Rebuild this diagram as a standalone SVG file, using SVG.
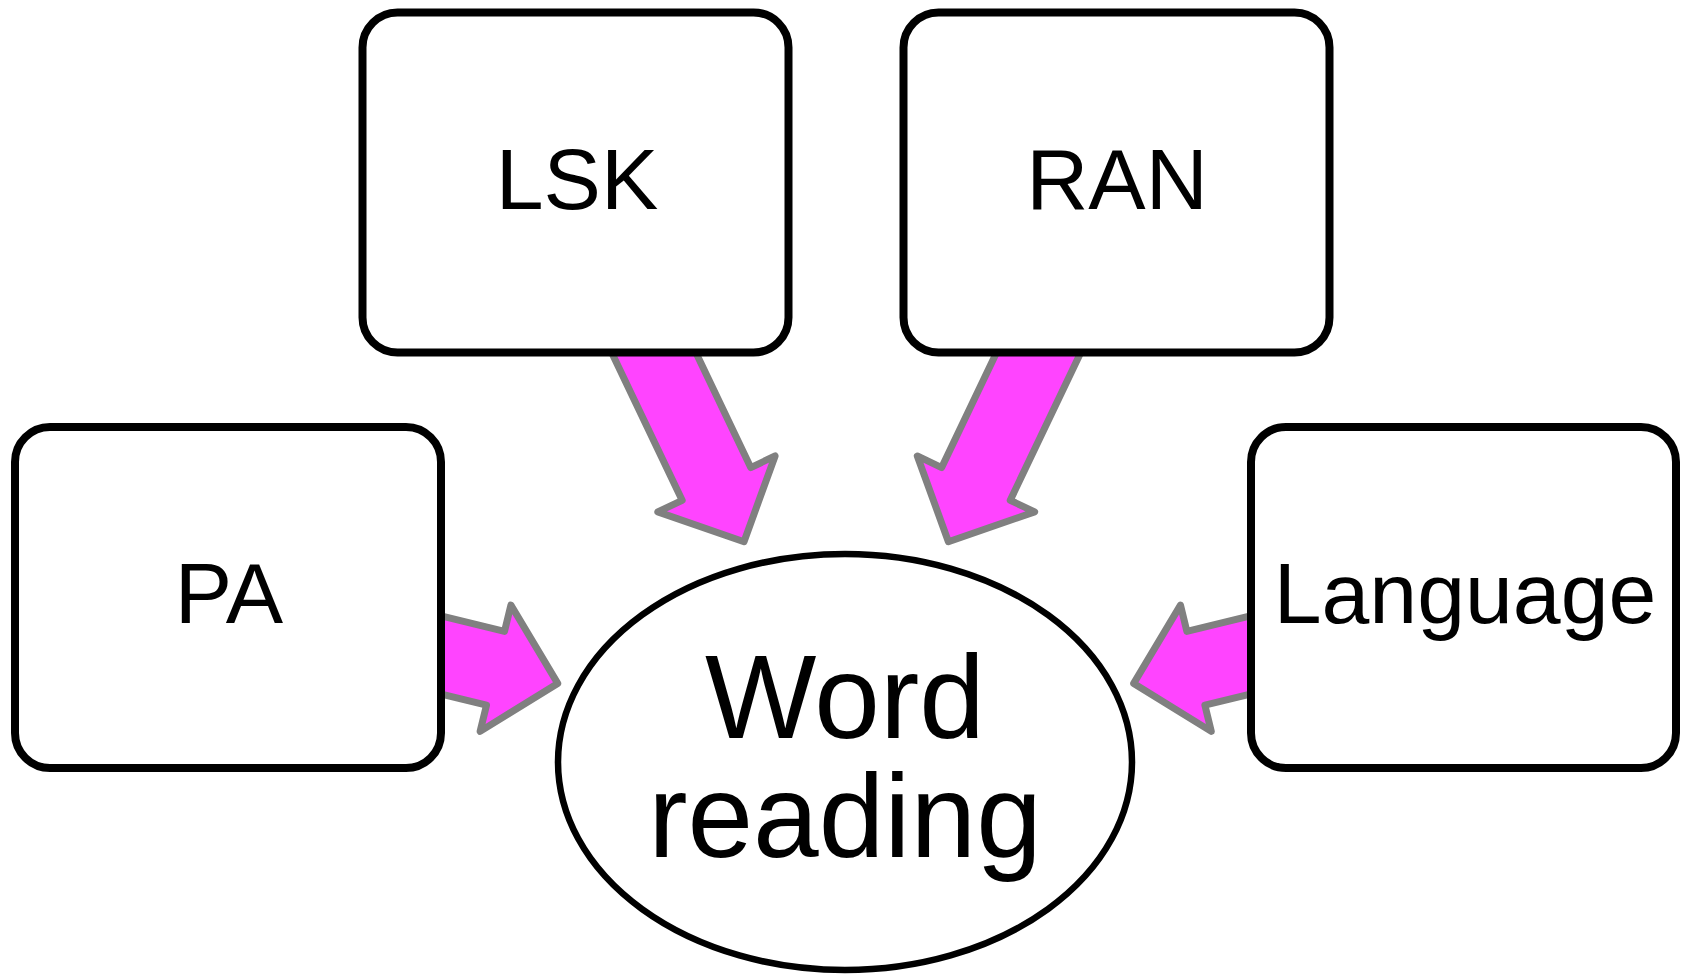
<svg xmlns="http://www.w3.org/2000/svg" xmlns:xlink="http://www.w3.org/1999/xlink" width="1685" height="976" viewBox="0 0 1685 976">
  <style>
    .box { fill: #ffffff; stroke: #000000; stroke-width: 8; }
    .oval { fill: #ffffff; stroke: #000000; stroke-width: 6.5; }
    .lbl { font-family: "Liberation Sans", Arial, sans-serif; font-size: 86px; fill: #000000; text-anchor: middle; }
    .big { font-family: "Liberation Sans", Arial, sans-serif; font-size: 118px; fill: #000000; text-anchor: middle; }
    .arrow { fill: #ff44ff; stroke: #808080; stroke-width: 7; stroke-linejoin: round; }
  </style>
  <defs>
    <polygon id="blockArrow" points="-240,-38 -64,-38 -64,-65 0,0 -64,65 -64,38 -240,38"/>
  </defs>
  <rect width="1685" height="976" fill="#ffffff"/>
  <g id="connectors">
    <use xlink:href="#blockArrow" class="arrow" transform="translate(744,541.7) rotate(64.5)"/>
    <use xlink:href="#blockArrow" class="arrow" transform="translate(948.4,541.7) rotate(115.5)"/>
    <use xlink:href="#blockArrow" class="arrow" transform="translate(557.7,683.4) rotate(13.7)"/>
    <use xlink:href="#blockArrow" class="arrow" transform="translate(1133.7,683.4) rotate(166.3)"/>
  </g>
  <g id="node-lsk">
    <rect class="box" x="362.5" y="12.5" width="426" height="340" rx="35" ry="35"/>
    <text class="lbl" x="577" y="209">LSK</text>
  </g>
  <g id="node-ran">
    <rect class="box" x="903.5" y="12.5" width="426" height="340" rx="35" ry="35"/>
    <text class="lbl" x="1117" y="209">RAN</text>
  </g>
  <g id="node-pa">
    <rect class="box" x="15" y="427" width="426" height="341" rx="35" ry="35"/>
    <text class="lbl" x="229" y="623">PA</text>
  </g>
  <g id="node-language">
    <rect class="box" x="1251" y="427" width="425" height="341" rx="35" ry="35"/>
    <text class="lbl" x="1465" y="623">Language</text>
  </g>
  <g id="node-word-reading">
    <ellipse class="oval" cx="845" cy="762" rx="287" ry="208"/>
    <text class="big" x="845" y="738">Word</text>
    <text class="big" x="845" y="857">reading</text>
  </g>
</svg>
